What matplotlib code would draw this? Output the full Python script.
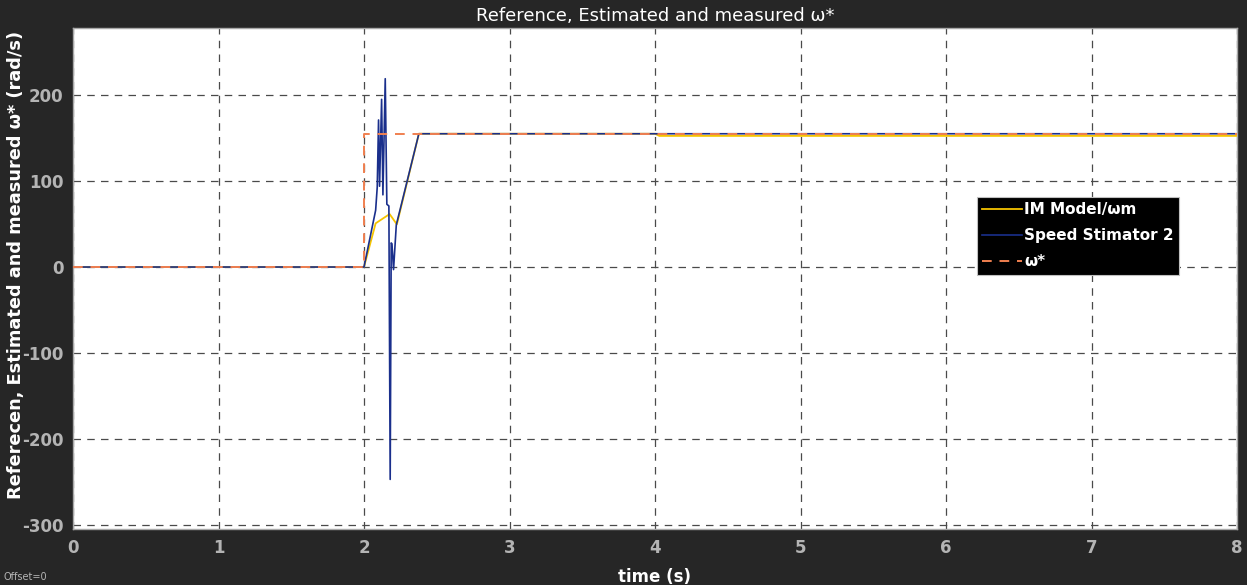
import matplotlib
matplotlib.use("Agg")
import matplotlib.pyplot as plt

plt.rcParams['axes.unicode_minus'] = False

# Reference speed ω*
ref_t = [0.0, 2.0, 2.0, 8.0]
ref_v = [0.0, 0.0, 155.0, 155.0]

# IM Model / ωm
im_t = [0.0, 2.0, 2.08, 2.176, 2.226, 2.377, 4.0, 4.03, 8.0]
im_v = [0.0, 0.0, 50.8, 61.6, 49.6, 155.0, 155.0, 152.5, 152.5]

# Speed Stimator 2
est_t = [0.0, 2.0, 2.08, 2.091, 2.100, 2.107, 2.121, 2.130, 2.146, 2.157, 2.171,
         2.180, 2.187, 2.192, 2.203, 2.222, 2.377, 8.0]
est_v = [0.0, 0.0, 66.0, 93.0, 171.0, 94.0, 195.0, 84.0, 219.0, 73.0, 71.0,
         -247.0, 28.0, 27.0, -3.0, 49.0, 155.0, 155.0]

x_ticks = [0, 1, 2, 3, 4, 5, 6, 7, 8]
y_ticks = [-300, -200, -100, 0, 100, 200]

bg = '#262626'
fig = plt.figure(figsize=(12.47, 5.85), dpi=100, facecolor=bg)
ax = fig.add_axes([73/1247, 1-529/585, (1237-73)/1247, (529-28)/585])
ax.set_facecolor('white')

ax.plot(im_t, im_v, color='#F5C400', lw=1.3, label='IM Model/ωm', zorder=3)
ax.plot(est_t, est_v, color='#1A2F8C', lw=1.2, label='Speed Stimator 2', zorder=4)
ax.plot(ref_t, ref_v, color='#F08050', lw=1.4, ls=(0, (5, 4)), label='ω*', zorder=5)

ax.set_xlim(0, 8)
ax.set_ylim(-304.7, 278)
ax.set_xticks(x_ticks)
ax.set_yticks(y_ticks)
ax.tick_params(length=0, colors='#b4b4b4', labelsize=12, pad=7)
for lab in ax.get_xticklabels() + ax.get_yticklabels():
    lab.set_fontweight('bold')
ax.grid(True, color='#4a4a4a', ls=(0, (6, 5)), lw=0.9)
for s in ax.spines.values():
    s.set_color('#a8a8a8')
    s.set_linewidth(1.0)

ax.set_title('Reference, Estimated and measured ω*', color='white', fontsize=13, pad=5)
ax.set_xlabel('time (s)', color='white', fontsize=12, fontweight='bold', labelpad=8)
fig.text(16/1247, 1-265/585, 'Referecen, Estimated and measured ω* (rad/s)', color='white',
         fontsize=12.8, fontweight='bold', rotation=90, ha='center', va='center')

leg = ax.legend(loc='upper left', bbox_to_anchor=(0.7766, 0.663), borderaxespad=0,
                frameon=True, fancybox=False, facecolor='black', edgecolor='#c0c0c0',
                framealpha=1.0, fontsize=11, borderpad=0.35, labelspacing=0.72,
                handlelength=2.6, handletextpad=0.15)
for t in leg.get_texts():
    t.set_color('white')
    t.set_fontweight('bold')
leg.get_frame().set_linewidth(0.8)

fig.text(4/1247, 1-582/585, 'Offset=0', color='#b4b4b4', fontsize=7, ha='left', va='bottom')

fig.savefig('out.png', dpi=100, facecolor=bg)
